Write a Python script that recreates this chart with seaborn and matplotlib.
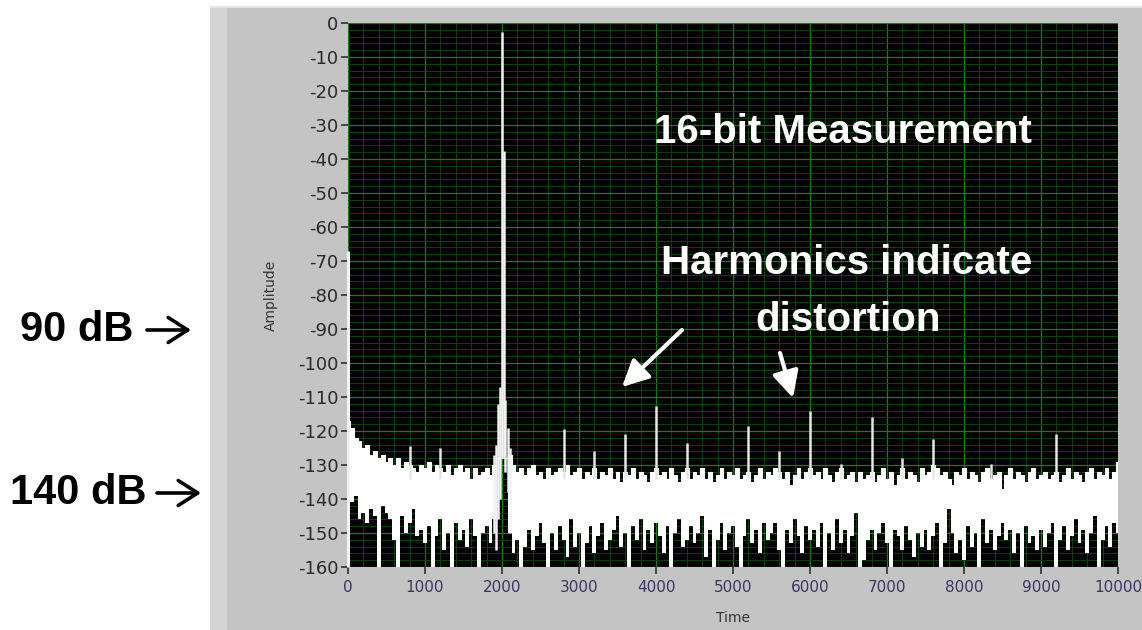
import numpy as np
import pandas as pd
import matplotlib
matplotlib.use("Agg")
import matplotlib.pyplot as plt
import seaborn as sns
from matplotlib.patches import Rectangle
from matplotlib.ticker import MultipleLocator

# ---------------- data ----------------
BIN_HZ = 50  # spacing of the noise-envelope samples below (0 ... 10000 Hz)

# top of the white noise band, one value per 50 Hz bin (dB)
noise_top = [
    -117, -119, -122, -123, -125, -124, -127, -126, -128, -127,   # 0
    -129, -128, -130, -128, -131, -129, -130, -131, -132, -130,   # 500
    -131, -129, -132, -130, -131, -132, -130, -133, -131, -130,   # 1000
    -132, -131, -134, -131, -133, -132, -131, -133, -130, -128,   # 1500
    -128, -128, -127, -130, -132, -131, -133, -131, -130, -133,   # 2000
    -132, -134, -131, -133, -132, -131, -132, -130, -133, -132,   # 2500
    -131, -134, -132, -133, -131, -134, -132, -133, -131, -134,   # 3000
    -132, -135, -132, -133, -131, -134, -132, -133, -135, -132,   # 3500
    -131, -133, -132, -134, -131, -133, -135, -132, -131, -134,   # 4000
    -132, -133, -131, -134, -132, -135, -133, -131, -134, -132,   # 4500
    -133, -131, -134, -133, -132, -135, -133, -131, -134, -132,   # 5000
    -133, -131, -132, -134, -132, -136, -133, -131, -134, -132,   # 5500
    -131, -133, -132, -134, -131, -133, -135, -132, -131, -134,   # 6000
    -133, -132, -135, -132, -134, -133, -132, -135, -133, -131,   # 6500
    -134, -132, -136, -133, -131, -134, -132, -133, -135, -131,   # 7000
    -133, -132, -130, -131, -133, -132, -134, -136, -132, -133,   # 7500
    -131, -134, -132, -133, -135, -132, -131, -134, -133, -132,   # 8000
    -137, -133, -131, -134, -132, -133, -135, -132, -131, -134,   # 8500
    -133, -132, -134, -133, -132, -135, -133, -131, -134, -132,   # 9000
    -133, -135, -132, -131, -134, -132, -133, -131, -134, -132,   # 9500
    -129,                                                         # 10000
]

# bottom of the white noise band (where the dark floor begins), dB
noise_bottom = [
    -160, -141, -139, -146, -144, -147, -143, -145, -160, -142,   # 0
    -144, -146, -152, -160, -145, -150, -147, -143, -151, -149,   # 500
    -153, -148, -160, -151, -146, -155, -150, -160, -147, -152,   # 1000
    -149, -154, -146, -151, -160, -150, -148, -153, -146, -128,   # 1500
    -128, -128, -150, -156, -152, -160, -154, -149, -155, -151,   # 2000
    -147, -153, -160, -150, -155, -148, -152, -157, -146, -154,   # 2500
    -150, -160, -153, -148, -156, -151, -147, -155, -152, -149,   # 3000
    -145, -154, -150, -160, -148, -152, -146, -155, -149, -153,   # 3500
    -147, -151, -156, -148, -160, -150, -146, -154, -152, -148,   # 4000
    -153, -150, -145, -157, -149, -160, -152, -147, -155, -150,   # 4500
    -148, -154, -160, -151, -146, -153, -149, -156, -147, -152,   # 5000
    -150, -147, -155, -160, -149, -153, -146, -151, -156, -148,   # 5500
    -152, -149, -154, -147, -160, -150, -155, -146, -153, -149,   # 6000
    -156, -151, -144, -160, -158, -152, -149, -155, -150, -147,   # 6500
    -153, -160, -149, -151, -155, -148, -152, -157, -150, -154,   # 7000
    -149, -155, -151, -147, -160, -153, -143, -150, -156, -152,   # 7500
    -158, -148, -154, -150, -160, -146, -153, -149, -155, -151,   # 8000
    -147, -152, -149, -156, -150, -160, -148, -153, -151, -155,   # 8500
    -149, -154, -150, -147, -160, -152, -148, -155, -151, -146,   # 9000
    -153, -149, -156, -150, -145, -160, -152, -148, -154, -147,   # 9500
    -150,                                                         # 10000
]

# fundamental tone at 2 kHz and its skirt
tone_hz = [1900, 1925, 1950, 1975, 2000, 2020, 2045, 2075, 2100]
tone_top = [-127, -124, -112, -107, -2.5, -37.5, -111, -119, -125]
tone_bottom = [-150, -155, -146, -140, -128, -128, -132, -138, -150]

# DC component
dc_hz = [0]
dc_db = [-67]

# harmonic / spur lines above the noise floor
harmonic_hz = [800, 1200, 2800, 3200, 3600, 4000, 4400, 5200, 5600,
               6000, 6400, 6800, 7200, 7600, 8350, 9200]
harmonic_db = [-124.5, -125, -119.5, -126, -121, -112.7, -123.4, -118.5, -126,
               -114, -129.6, -116, -128, -122.4, -129.8, -121]

x_ticks = [0, 1000, 2000, 3000, 4000, 5000, 6000, 7000, 8000, 9000, 10000]
y_ticks = [0, -10, -20, -30, -40, -50, -60, -70, -80, -90, -100,
           -110, -120, -130, -140, -150, -160]

# ---------------- figure ----------------
sns.set_style("dark")
plt.rcParams['font.family'] = ['Liberation Sans', 'DejaVu Sans']

W, H = 1142, 630
fig = plt.figure(figsize=(W / 100, H / 100), dpi=100, facecolor='white')

def fx(px):
    return px / W

def fy(py):
    return 1 - py / H

# LabVIEW-like grey panel
fig.patches.append(Rectangle((fx(210), 0), 1 - fx(210), fy(6), transform=fig.transFigure,
                             facecolor='#c4c4c4', edgecolor='none', zorder=-5))
fig.patches.append(Rectangle((fx(210), 0), fx(17), fy(6), transform=fig.transFigure,
                             facecolor='#d4d4d4', edgecolor='none', zorder=-4))
fig.patches.append(Rectangle((fx(210), fy(8)), 1 - fx(210), 2 / H, transform=fig.transFigure,
                             facecolor='#e4e4e4', edgecolor='none', zorder=-4))

ax = fig.add_axes([fx(348), 1 - 567 / H, (1118 - 348) / W, (567 - 23) / H])
ax.set_facecolor('black')

df = pd.DataFrame({'freq': np.arange(len(noise_top)) * BIN_HZ,
                   'top': noise_top, 'bottom': noise_bottom})

# noise band
ax.fill_between(df['freq'], df['bottom'], df['top'], step='mid',
                color='white', lw=0, zorder=3)
sns.lineplot(data=df, x='freq', y='top', ax=ax, drawstyle='steps-mid',
             color='white', lw=0.8, zorder=3)

# tone and skirt
ax.vlines(tone_hz, tone_bottom, tone_top, colors='#f2f2f2', lw=1.8, zorder=4)
# DC
ax.vlines(dc_hz, -160, dc_db, colors='#f2f2f2', lw=2.2, zorder=4, clip_on=False)
# harmonics
ax.vlines(harmonic_hz, -134, harmonic_db, colors='#e6e6e6', lw=1.8, zorder=4)

ax.set_xlim(0, 10000)
ax.set_ylim(-160, 0)
ax.set_xticks(x_ticks)
ax.set_yticks(y_ticks)
ax.xaxis.set_minor_locator(MultipleLocator(200))
ax.yaxis.set_minor_locator(MultipleLocator(2))
ax.grid(which='major', color='#1a7d1a', lw=0.9, zorder=0)
ax.grid(which='minor', color='#0a440a', lw=0.7, zorder=0)
ax.set_axisbelow(True)
for s in ax.spines.values():
    s.set_visible(False)

ax.tick_params(axis='y', which='major', direction='out', length=5, width=1.2,
               color='#303030', pad=2, labelsize=13, labelcolor='#2a2a2a', left=True)
ax.tick_params(axis='x', which='major', direction='out', length=5, width=1.2,
               color='#303030', pad=4, labelsize=11, labelcolor='#3d3562', bottom=True)
ax.tick_params(which='minor', length=0)
ax.set_xticklabels([str(v) for v in x_ticks], family='DejaVu Sans')
ax.set_yticklabels([str(v) for v in y_ticks], family='DejaVu Sans')

ax.set_xlabel('Time', fontsize=10, color='#333333', family='DejaVu Sans')
ax.set_ylabel('Amplitude', fontsize=10, color='#333333', family='DejaVu Sans')
ax.xaxis.set_label_coords(0.5, -0.08)
ax.yaxis.set_label_coords(-0.091, 0.5)

# annotations in white
fig.text(fx(843), fy(132), '16-bit Measurement', color='white', fontsize=29,
         fontweight='bold', ha='center', va='center')
fig.text(fx(847), fy(263), 'Harmonics indicate', color='white', fontsize=29,
         fontweight='bold', ha='center', va='center')
fig.text(fx(848), fy(320), 'distortion', color='white', fontsize=29,
         fontweight='bold', ha='center', va='center')

arrow_kw = dict(arrowstyle='-|>,head_length=0.8,head_width=0.4', color='white',
                lw=3, mutation_scale=20, shrinkA=0, shrinkB=0)
ax.annotate('', xy=(fx(622), fy(387)), xycoords='figure fraction',
            xytext=(fx(682), fy(330)), textcoords='figure fraction',
            arrowprops=arrow_kw, zorder=6)
ax.annotate('', xy=(fx(793), fy(398)), xycoords='figure fraction',
            xytext=(fx(780), fy(353)), textcoords='figure fraction',
            arrowprops=arrow_kw, zorder=6)

# left-hand dynamic range labels with open arrows
fig.text(fx(20), fy(330), '90 dB', color='black', fontsize=30,
         fontweight='bold', ha='left', va='center')
fig.text(fx(10), fy(493), '140 dB', color='black', fontsize=30,
         fontweight='bold', ha='left', va='center')
open_arrow = dict(arrowstyle='->,head_length=0.7,head_width=0.45', color='black',
                  lw=2.6, mutation_scale=20, shrinkA=0, shrinkB=0)
ax.annotate('', xy=(fx(191), fy(330)), xycoords='figure fraction',
            xytext=(fx(147), fy(330)), textcoords='figure fraction',
            arrowprops=open_arrow, annotation_clip=False)
ax.annotate('', xy=(fx(201), fy(493)), xycoords='figure fraction',
            xytext=(fx(157), fy(493)), textcoords='figure fraction',
            arrowprops=open_arrow, annotation_clip=False)

fig.savefig('out.png', dpi=100, facecolor='white')
